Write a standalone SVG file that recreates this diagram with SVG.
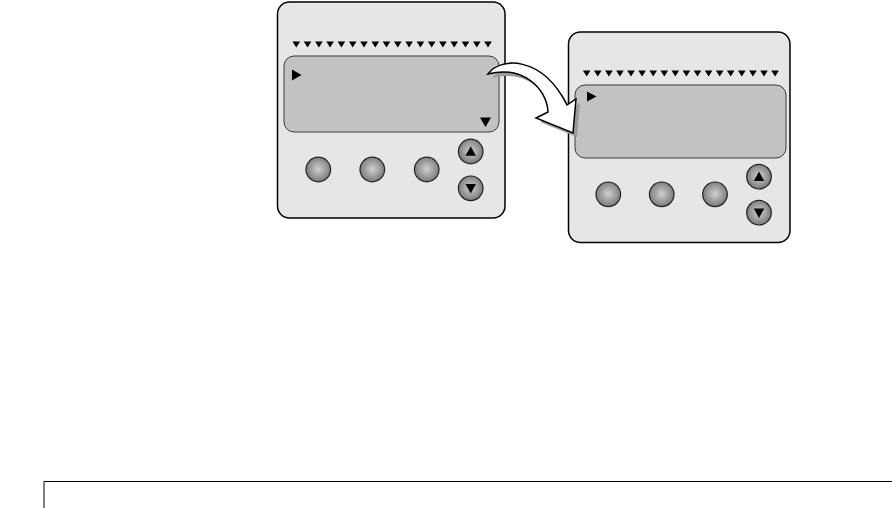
<svg xmlns="http://www.w3.org/2000/svg" xmlns:xlink="http://www.w3.org/1999/xlink" width="892" height="508" viewBox="0 0 892 508">
<style>
.panel{fill:#e6e6e6;stroke:#000;stroke-width:1.5}
.screen{fill:#c2c2c2;stroke:#3a3a3a;stroke-width:1}
.btn{fill:url(#btnGrad);stroke:#222;stroke-width:1.2}
.blk{fill:#000}
.frame{fill:none;stroke:#000;stroke-width:1}
.arrow{fill:#fff;stroke:#000;stroke-width:1.5;stroke-linejoin:miter}
.shadow{fill:#9a9a9a}
</style>
<defs>
<radialGradient id="btnGrad" cx="50%" cy="48%" r="55%">
<stop offset="0" stop-color="#cfcfcf"/>
<stop offset="0.75" stop-color="#8c8c8c"/>
<stop offset="1" stop-color="#6e6e6e"/>
</radialGradient>
<path id="tri" d="M-3.8,0 L3.8,0 L0,6 Z" fill="#000"/>
</defs>

<g id="panel1">
<rect class="panel" x="277.5" y="2" width="227.5" height="216" rx="12"/>
<use xlink:href="#tri" x="296.3" y="41.5"/><use xlink:href="#tri" x="307.6" y="41.5"/><use xlink:href="#tri" x="318.9" y="41.5"/><use xlink:href="#tri" x="330.1" y="41.5"/><use xlink:href="#tri" x="341.4" y="41.5"/><use xlink:href="#tri" x="352.7" y="41.5"/><use xlink:href="#tri" x="364.0" y="41.5"/><use xlink:href="#tri" x="375.3" y="41.5"/><use xlink:href="#tri" x="386.5" y="41.5"/><use xlink:href="#tri" x="397.8" y="41.5"/><use xlink:href="#tri" x="409.1" y="41.5"/><use xlink:href="#tri" x="420.4" y="41.5"/><use xlink:href="#tri" x="431.7" y="41.5"/><use xlink:href="#tri" x="442.9" y="41.5"/><use xlink:href="#tri" x="454.2" y="41.5"/><use xlink:href="#tri" x="465.5" y="41.5"/><use xlink:href="#tri" x="476.8" y="41.5"/><use xlink:href="#tri" x="488.0" y="41.5"/>
<rect class="screen" x="284" y="56" width="215" height="76" rx="10"/>
<polygon class="blk" points="292,69.5 301.5,75 292,80.5"/>
<polygon class="blk" points="480,117.5 491,117.5 485.5,127"/>
<circle class="btn" cx="318.3" cy="169.5" r="12.3"/>
<circle class="btn" cx="372.3" cy="169.5" r="12.3"/>
<circle class="btn" cx="426.7" cy="169.5" r="12.3"/>
<circle class="btn" cx="470.7" cy="151.5" r="12.3"/>
<circle class="btn" cx="470.7" cy="188.3" r="12.3"/>
<polygon class="blk" points="465.5,155.8 475.9,155.8 470.7,146.3"/>
<polygon class="blk" points="465.5,184 475.9,184 470.7,193.5"/>
</g>

<g id="panel2">
<rect class="panel" x="568.5" y="32" width="221.5" height="210.5" rx="12"/>
<use xlink:href="#tri" x="586.7" y="70.5"/><use xlink:href="#tri" x="597.8" y="70.5"/><use xlink:href="#tri" x="608.9" y="70.5"/><use xlink:href="#tri" x="619.9" y="70.5"/><use xlink:href="#tri" x="631.0" y="70.5"/><use xlink:href="#tri" x="642.1" y="70.5"/><use xlink:href="#tri" x="653.2" y="70.5"/><use xlink:href="#tri" x="664.3" y="70.5"/><use xlink:href="#tri" x="675.3" y="70.5"/><use xlink:href="#tri" x="686.4" y="70.5"/><use xlink:href="#tri" x="697.5" y="70.5"/><use xlink:href="#tri" x="708.6" y="70.5"/><use xlink:href="#tri" x="719.7" y="70.5"/><use xlink:href="#tri" x="730.7" y="70.5"/><use xlink:href="#tri" x="741.8" y="70.5"/><use xlink:href="#tri" x="752.9" y="70.5"/><use xlink:href="#tri" x="764.0" y="70.5"/><use xlink:href="#tri" x="775.1" y="70.5"/>
<rect class="screen" x="575" y="85" width="211" height="73" rx="10"/>
<polygon class="blk" points="587,91.5 596.5,96.5 587,101.5"/>
<circle class="btn" cx="608.3" cy="194.3" r="12.3"/>
<circle class="btn" cx="661.7" cy="194.3" r="12.3"/>
<circle class="btn" cx="715" cy="194.3" r="12.3"/>
<circle class="btn" cx="759" cy="176.7" r="12.3"/>
<circle class="btn" cx="759" cy="212.7" r="12.3"/>
<polygon class="blk" points="753.8,181 764.2,181 759,171.5"/>
<polygon class="blk" points="753.8,208.4 764.2,208.4 759,217.9"/>
</g>

<g id="connectors">
<path class="shadow" transform="translate(4,4)" d="M488,74 C500,57 542,55 567,105 L576,99 L573,133 L536,118 L548,112 C547,88 522,65 488,74 Z"/>
<path class="arrow" d="M488,74 C500,57 542,55 567,105 L576,99 L573,133 L536,118 L548,112 C547,88 522,65 488,74 Z"/>
</g>

<g id="frame">
<path class="frame" d="M44,508 V481.5 H892"/>
</g>
</svg>
